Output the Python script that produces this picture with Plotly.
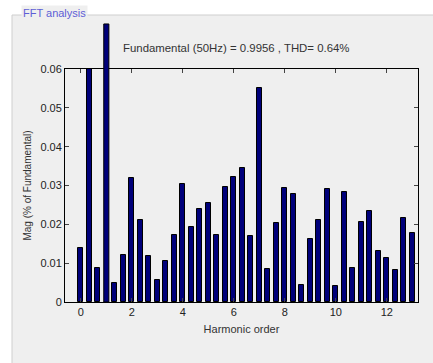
import plotly.graph_objects as go

# Harmonic orders (step 1/3) and magnitudes
harmonic_order = [i / 3 for i in range(40)]
magnitude = [0.0140, 0.0600, 0.0088, 0.0716, 0.0048, 0.0120, 0.0319, 0.0210, 0.0118, 0.0056,
             0.0106, 0.0172, 0.0303, 0.0193, 0.0239, 0.0256, 0.0172, 0.0297, 0.0323, 0.0346,
             0.0169, 0.0550, 0.0085, 0.0203, 0.0293, 0.0277, 0.0044, 0.0163, 0.0210, 0.0290,
             0.0042, 0.0282, 0.0088, 0.0207, 0.0235, 0.0132, 0.0113, 0.0082, 0.0216, 0.0177]
fundamental_index = 3
x_ticks = [0, 2, 4, 6, 8, 10, 12]
y_ticks = [0, 0.01, 0.02, 0.03, 0.04, 0.05, 0.06]
title_text = "Fundamental (50Hz) = 0.9956 , THD= 0.64%"
panel_title = "FFT analysis"

W, H = 433, 363
L, R, T, B = 65, 15, 69, 61
pw, ph = W - L - R, H - T - B
x_range = [-0.62, 13.22]
y_range = [0, 0.06]
bar_w = 0.2

def px(xp):
    return (xp - L) / pw

def py(yp):
    return (H - B - yp) / ph

def data_to_paper_x(v):
    return (v - x_range[0]) / (x_range[1] - x_range[0])

def data_to_paper_y(v):
    return (v - y_range[0]) / (y_range[1] - y_range[0])

navy = "#00007a"
bar_x = [x for i, x in enumerate(harmonic_order) if i != fundamental_index]
bar_y = [y for i, y in enumerate(magnitude) if i != fundamental_index]

fig = go.Figure()
fig.add_trace(go.Bar(x=bar_x, y=bar_y, width=bar_w,
                     marker=dict(color=navy, line=dict(color="black", width=1))))

fx = harmonic_order[fundamental_index]
fy = magnitude[fundamental_index]

font = "Liberation Sans, Arial, sans-serif"
fig.update_layout(
    width=W, height=H,
    margin=dict(l=L, r=R, t=T, b=B),
    paper_bgcolor="white",
    plot_bgcolor="white",
    showlegend=False,
    bargap=0,
    font=dict(family=font, size=11, color="#222"),
    xaxis=dict(range=x_range, tickvals=x_ticks, ticks="inside", ticklen=4,
               showline=True, linecolor="black", linewidth=1, mirror="ticks",
               showgrid=False, zeroline=False,
               title=dict(text="Harmonic order", font=dict(size=11, color="#333"), standoff=8)),
    yaxis=dict(range=y_range, tickvals=y_ticks, ticktext=["0", "0.01", "0.02", "0.03", "0.04", "0.05", "0.06"],
               ticks="inside", ticklen=4,
               showline=True, linecolor="black", linewidth=1, mirror="ticks",
               showgrid=False, zeroline=False,
               title=dict(text="Mag (% of Fundamental)", font=dict(size=10, color="#333"), standoff=6)),
    shapes=[
        dict(type="rect", xref="paper", yref="paper", layer="below",
             x0=px(12), x1=px(W + 20), y0=py(H + 20), y1=py(15),
             fillcolor="#efefef", line=dict(color="#cfcfcf", width=1)),
        # fundamental bar overflowing the axes (as in the original)
        dict(type="rect", xref="paper", yref="paper", layer="above",
             x0=data_to_paper_x(fx - bar_w / 2), x1=data_to_paper_x(fx + bar_w / 2),
             y0=data_to_paper_y(0), y1=data_to_paper_y(fy),
             fillcolor=navy, line=dict(color="black", width=1)),
    ],
    annotations=[
        dict(text=panel_title, xref="paper", yref="paper", x=px(21), y=py(13),
             xanchor="left", yanchor="middle", showarrow=False, bgcolor="#efefef",
             font=dict(family=font, size=11, color="#5e5ed6")),
        dict(text=title_text, xref="paper", yref="paper", x=px(236), y=py(48),
             xanchor="center", yanchor="middle", showarrow=False,
             font=dict(family=font, size=11.4, color="#333")),
    ],
)
fig.write_html("out.html")
